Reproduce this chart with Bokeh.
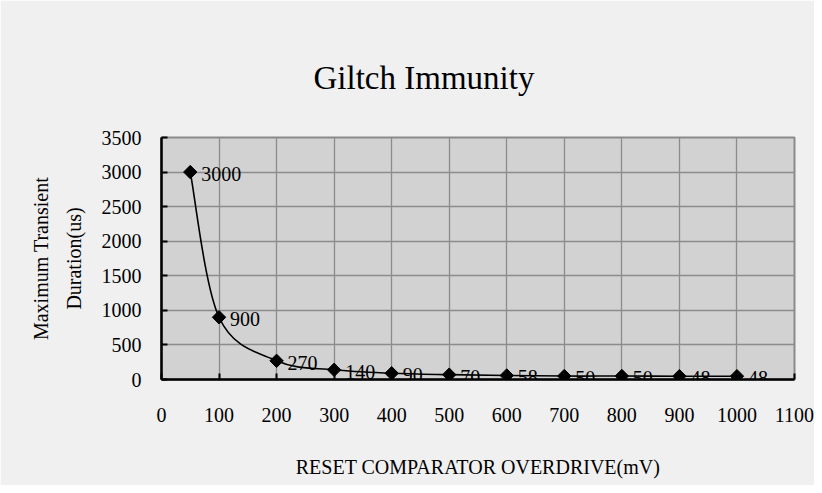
import numpy as np
from bokeh.plotting import figure
from bokeh.models import Range1d, FixedTicker, ColumnDataSource
from bokeh.core.properties import value
from bokeh.embed import file_html
from bokeh.resources import INLINE

# ---- data ----
overdrive_mv = [50, 100, 200, 300, 400, 500, 600, 700, 800, 900, 1000]
duration_us = [3000, 900, 270, 140, 90, 70, 58, 50, 50, 48, 48]
point_labels = ["3000", "900", "270", "140", "90", "70", "58", "50", "50", "48", "48"]
x_ticks = [0, 100, 200, 300, 400, 500, 600, 700, 800, 900, 1000, 1100]
y_ticks = [0, 500, 1000, 1500, 2000, 2500, 3000, 3500]

FONT = "Liberation Serif"

p = figure(width=814, height=485, output_backend="svg", toolbar_location=None,
           x_range=Range1d(0, 1100), y_range=Range1d(0, 3500),
           min_border_left=161, min_border_right=20, min_border_top=137, min_border_bottom=106)

p.background_fill_color = "#d2d2d2"
p.border_fill_color = "#f0f0f0"
p.outline_line_color = "#8a8a8a"
p.outline_line_width = 2

p.title.text = "Giltch Immunity"
p.title.align = "left"
p.title.text_font = FONT
p.title.text_font_style = "normal"
p.title.text_font_size = "33px"
p.title.text_color = "#000000"
p.title.offset = 152
p.title.standoff = 84

# grid
p.xgrid.ticker = FixedTicker(ticks=x_ticks)
p.ygrid.ticker = FixedTicker(ticks=y_ticks)
p.grid.grid_line_color = "#8c8c8c"
p.grid.grid_line_width = 1.3

# axes
for ax in (p.xaxis[0], p.yaxis[0]):
    ax.axis_line_color = "#000000"
    ax.axis_line_width = 2.5
    ax.major_tick_line_color = "#000000"
    ax.major_tick_line_width = 2
    ax.major_tick_out = 0
    ax.major_tick_in = 6
    ax.minor_tick_line_color = None
    ax.major_label_text_font = FONT
    ax.major_label_text_font_size = "20px"
    ax.major_label_text_color = "#000000"
    ax.axis_label_text_font = FONT
    ax.axis_label_text_font_size = "20px"
    ax.axis_label_text_font_style = "normal"
    ax.axis_label_text_color = "#000000"

p.xaxis[0].ticker = FixedTicker(ticks=x_ticks)
p.yaxis[0].ticker = FixedTicker(ticks=y_ticks)
p.xaxis[0].major_label_standoff = 28
p.yaxis[0].major_label_standoff = 20
p.xaxis[0].axis_label = "RESET COMPARATOR OVERDRIVE(mV)"
p.xaxis[0].axis_label_standoff = 31
p.yaxis[0].axis_label = "Maximum Transient\nDuration(us)"
p.yaxis[0].axis_label_standoff = 14
p.yaxis[0].axis_label_text_line_height = 1.5

# smoothed line (Catmull-Rom -> cubic Bezier segments built from the data points)
xs = np.array(overdrive_mv, dtype=float)
ys = np.array(duration_us, dtype=float)
n = len(xs)
px = np.concatenate([[xs[0]], xs, [xs[-1]]])
py = np.concatenate([[ys[0]], ys, [ys[-1]]])
seg = dict(x0=[], y0=[], x1=[], y1=[], cx0=[], cy0=[], cx1=[], cy1=[])
for i in range(n - 1):
    j = i + 1
    seg["x0"].append(xs[i]); seg["y0"].append(ys[i])
    seg["x1"].append(xs[i + 1]); seg["y1"].append(ys[i + 1])
    seg["cx0"].append(xs[i] + (px[j + 1] - px[j - 1]) / 6)
    seg["cy0"].append(ys[i] + (py[j + 1] - py[j - 1]) / 6)
    seg["cx1"].append(xs[i + 1] - (px[j + 2] - px[j]) / 6)
    seg["cy1"].append(ys[i + 1] - (py[j + 2] - py[j]) / 6)
p.bezier(x0="x0", y0="y0", x1="x1", y1="y1", cx0="cx0", cy0="cy0", cx1="cx1", cy1="cy1",
         source=ColumnDataSource(seg), line_color="#000000", line_width=1.6)

src = ColumnDataSource(dict(x=overdrive_mv, y=duration_us, lbl=point_labels))
p.scatter(x="x", y="y", source=src, marker="square", angle=np.pi / 4, size=9.5,
          fill_color="#000000", line_color="#000000")
p.text(x="x", y="y", text="lbl", source=src, x_offset=11, y_offset=2,
       text_baseline="middle", text_align="left", text_font=value(FONT),
       text_font_size="20px", text_color="#000000")

open("out.html", "w").write(file_html(p, INLINE))
